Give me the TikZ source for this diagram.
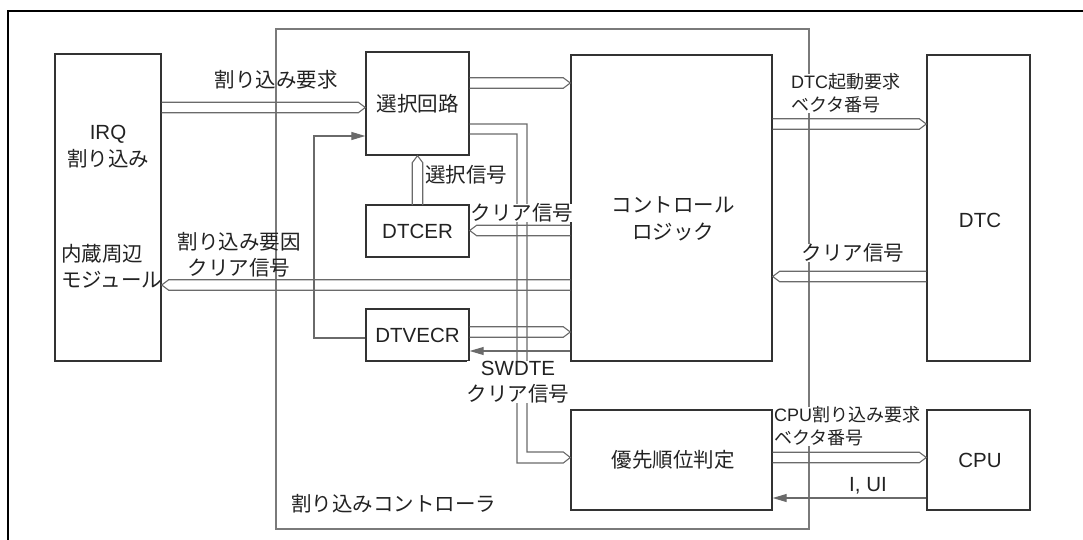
\documentclass[tikz,border=0pt]{standalone}
\usepackage{fontspec}
\setmainfont{Liberation Sans}
\newfontfamily\jp{Noto Sans CJK JP}
\usetikzlibrary{arrows.meta,calc}
\definecolor{boxc}{HTML}{333333}
\definecolor{linec}{HTML}{6A6A6A}
\definecolor{framec}{HTML}{7A7A7A}
\definecolor{txt}{HTML}{222222}
\newcommand\lbfont{\fontsize{20.5}{26}\selectfont}
\newcommand\smfont{\fontsize{18}{23}\selectfont}
\begin{document}
\begin{tikzpicture}[x=1pt,y=-1pt,
  box/.style={draw=boxc,line width=1.4pt,inner sep=0pt,fill=white},
  bus/.style={draw=linec,line width=1.1pt,line join=miter},
  sig/.style={draw=linec,line width=1.1pt,-{Triangle[length=14pt,width=8pt]},shorten >=0pt},
  frame/.style={draw=framec,line width=1.1pt},
  lbl/.style={text=txt,font=\lbfont,inner sep=0pt,align=center},
  sml/.style={text=txt,font=\smfont,inner sep=0pt,align=left},
  busR/.style={bus,to path={($(\tikztostart)+(0,-5.25)$) -- ($(\tikztotarget)+(-7,-5.25)$) -- (\tikztotarget) -- ($(\tikztotarget)+(-7,5.25)$) -- ($(\tikztostart)+(0,5.25)$)}},
  busL/.style={bus,to path={($(\tikztostart)+(0,-5.25)$) -- ($(\tikztotarget)+(7,-5.25)$) -- (\tikztotarget) -- ($(\tikztotarget)+(7,5.25)$) -- ($(\tikztostart)+(0,5.25)$)}},
  busU/.style={bus,to path={($(\tikztostart)+(-5.25,0)$) -- ($(\tikztotarget)+(-5.25,7)$) -- (\tikztotarget) -- ($(\tikztotarget)+(5.25,7)$) -- ($(\tikztostart)+(5.25,0)$)}}
]
\useasboundingbox (0,0) rectangle (1083,540);
% outer frame (clipped)
\draw[black,line width=2.4pt] (8,540) -- (8,11) -- (1083,11);
% controller frame
\draw[frame] (276,29) rectangle (809,529);

% boxes
\node[box,minimum width=106pt,minimum height=307pt] (irq) at (108,207.5) {};
\node[box,minimum width=103pt,minimum height=103pt] (sel) at (417.5,103.5) {};
\node[box,minimum width=103pt,minimum height=52pt] (dtcer) at (417.5,231) {};
\node[box,minimum width=103pt,minimum height=52pt] (dtvecr) at (417.5,335) {};
\node[box,minimum width=201pt,minimum height=306pt] (ctrl) at (671.5,208) {};
\node[box,minimum width=103pt,minimum height=306pt] (dtc) at (978.5,208) {};
\node[box,minimum width=201pt,minimum height=100pt] (prio) at (671.5,460) {};
\node[box,minimum width=103pt,minimum height=100pt] (cpu) at (978.5,460) {};

% bus end points
\coordinate (a1) at (irq.east |- 0,107.5);
\coordinate (a2) at (sel.west |- 0,107.5);
\coordinate (b1) at (sel.east |- 0,83);
\coordinate (b2) at (ctrl.west |- 0,83);
\coordinate (c1) at (dtcer.north |- 0,205);
\coordinate (c2) at (sel.south);
\coordinate (d1) at (ctrl.west |- 0,230.5);
\coordinate (d2) at (dtcer.east |- 0,230.5);
\coordinate (e1) at (ctrl.west |- 0,285);
\coordinate (e2) at (irq.east |- 0,285);
\coordinate (f1) at (dtvecr.east |- 0,332);
\coordinate (f2) at (ctrl.west |- 0,332);
\coordinate (g1) at (ctrl.east |- 0,124);
\coordinate (g2) at (dtc.west |- 0,124);
\coordinate (h1) at (dtc.west |- 0,276.5);
\coordinate (h2) at (ctrl.east |- 0,276.5);
\coordinate (k1) at (prio.east |- 0,457.5);
\coordinate (k2) at (cpu.west |- 0,457.5);
\coordinate (s1) at (sel.east |- 0,124);
\coordinate (s2) at (sel.east |- 0,134);
\coordinate (pt) at (prio.west |- 0,457.5);
\coordinate (sw) at (517,463);
\coordinate (se) at (527,452);

% buses
\draw[busR] (a1) to (a2);
\draw[busR] (b1) to (b2);
\draw[busU] (c1) to (c2);
\draw[busL] (d1) to (d2);
\draw[busL] (e1) to (e2);
\draw[busR] (f1) to (f2);
\draw[busR] (g1) to (g2);
\draw[busL] (h1) to (h2);
\draw[busR] (k1) to (k2);
\draw[bus] (s1) -| (se) -- ($(pt)+(-7,-5.5)$) -- (pt) -- ($(pt)+(-7,5.5)$) -- (sw) |- (s2);

% single signals
\draw[sig] (ctrl.west |- 0,351) -- (dtvecr.east |- 0,351);
\draw[sig] (dtvecr.west |- 0,338) -- (314,338) |- (sel.west |- 0,136);
\draw[sig] (cpu.west |- 0,498) -- (prio.east |- 0,498);

% box texts
\node[lbl,font=\fontsize{20.5}{27}\selectfont] (tirq) at (108,146.5) {IRQ\\{\jp 割り込み}};
\node[lbl,anchor=west,align=left] (tmod) at (61,266) {{\jp 内蔵周辺}\\{\jp モジュール}};
\node[lbl] (tsel) at (sel) {\jp 選択回路};
\node[lbl] (tdtcer) at (dtcer) {DTCER};
\node[lbl] (tdtvecr) at (dtvecr) {DTVECR};
\node[lbl,font=\fontsize{20.5}{27}\selectfont] (tctrl) at (673,218.5) {{\jp コントロール}\\{\jp ロジック}};
\node[lbl] (tdtc) at (980,220) {DTC};
\node[lbl] (tprio) at (673,460) {\jp 優先順位判定};
\node[lbl] (tcpu) at (980,460) {CPU};

% signal labels
\node[lbl] (l1) at (276,80) {\jp 割り込み要求};
\node[lbl] (l2) at (239,255) {{\jp 割り込み要因}\\{\jp クリア信号}};
\node[lbl] (l3) at (466,175) {\jp 選択信号};
\node[lbl,fill=white] (l4) at (522,213) {\jp クリア信号};
\node[lbl,fill=white] (l5) at (518,382) {SWDTE\\{\jp クリア信号}};
\node[sml,fill=white,anchor=west] (l6) at (791,93.5) {DTC{\jp 起動要求}\\{\jp ベクタ番号}};
\node[lbl,fill=white] (l7) at (853,253) {\jp クリア信号};
\node[sml,fill=white,anchor=west] (l8) at (774,426.5) {CPU{\jp 割り込み要求}\\{\jp ベクタ番号}};
\node[lbl] (l9) at (868,486) {I, UI};
\node[lbl,anchor=west] (l10) at (291,504) {\jp 割り込みコントローラ};
\end{tikzpicture}
\end{document}
